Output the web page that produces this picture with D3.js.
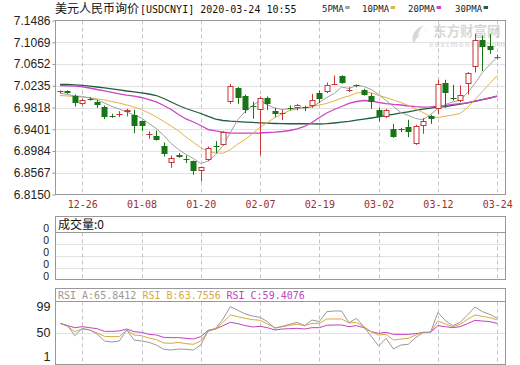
<!DOCTYPE html>
<html><head><meta charset="utf-8">
<script src="https://cdn.jsdelivr.net/npm/d3@7"></script>
<style>body{margin:0;background:#fff}svg{display:block}</style>
</head><body>
<svg id="c" width="520" height="365"></svg>
<script>
const dates = ["12-23","12-24","12-25","12-26","12-27","12-30","12-31","01-02","01-03","01-06","01-07","01-08","01-09","01-10","01-13","01-14","01-15","01-16","01-17","01-20","01-21","01-22","01-23","02-03","02-04","02-05","02-06","02-07","02-10","02-11","02-12","02-13","02-14","02-17","02-18","02-19","02-20","02-21","02-24","02-25","02-26","02-27","02-28","03-02","03-03","03-04","03-05","03-06","03-09","03-10","03-11","03-12","03-13","03-16","03-17","03-18","03-19","03-20","03-23","03-24"];
const labelIdx = [3,11,19,27,35,43,51,59];
const open  = [7.0106,7.0131,7.0029,6.9876,6.9990,6.9933,6.9837,6.9659,6.9678,6.9735,6.9678,6.9550,6.9300,6.9281,6.9083,6.8757,6.8911,6.8840,6.8783,6.8604,6.8802,6.9077,6.9102,6.9914,7.0195,7.0048,6.9844,6.9761,7.0003,6.9748,6.9703,6.9818,6.9812,6.9825,6.9850,7.0093,7.0118,7.0259,7.0425,7.0150,7.0240,7.0157,7.0029,6.9761,6.9633,6.9409,6.9403,6.9441,6.9109,6.9454,6.9646,6.9780,7.0285,7.0003,6.9952,7.0272,7.0585,7.1103,7.0994,7.0777];
const high  = [7.0144,7.0144,7.0067,6.9984,7.0016,6.9965,6.9857,6.9697,6.9748,6.9793,6.9774,6.9569,6.9358,6.9377,6.9147,6.8898,6.8943,6.8898,6.8802,6.8687,6.9070,6.9173,6.9364,7.0272,7.0208,7.0067,6.9927,7.0029,7.0029,6.9812,6.9774,6.9857,6.9888,6.9850,7.0080,7.0144,7.0297,7.0432,7.0438,7.0208,7.0259,7.0176,7.0093,6.9812,6.9793,6.9505,6.9428,6.9582,6.9486,6.9614,6.9678,7.0349,7.0349,7.0253,7.0240,7.0496,7.1231,7.1198,7.1230,7.0834];
const low   = [7.0086,7.0080,6.9837,6.9857,6.9952,6.9812,6.9595,6.9620,6.9633,6.9646,6.9326,6.9364,6.9217,6.9185,6.8879,6.8662,6.8853,6.8751,6.8527,6.8406,6.8789,6.8943,6.9090,6.9888,6.9888,6.9710,6.9601,6.8898,6.9773,6.9633,6.9582,6.9761,6.9761,6.9748,6.9812,6.9901,7.0093,7.0246,7.0272,7.0112,7.0208,7.0048,6.9793,6.9550,6.9614,6.9237,6.9345,6.9249,6.9102,6.9313,6.9505,6.9697,6.9812,6.9952,6.9920,7.0067,7.0489,7.0515,7.0847,7.0738];
const close = [7.0125,7.0093,6.9901,6.9971,6.9978,6.9863,6.9633,6.9646,6.9691,6.9774,6.9454,6.9454,6.9319,6.9198,6.8917,6.8847,6.8866,6.8828,6.8598,6.8668,6.9038,6.9058,6.9345,7.0221,7.0003,6.9773,6.9831,7.0003,6.9888,6.9684,6.9716,6.9806,6.9863,6.9812,6.9965,6.9978,7.0240,7.0265,7.0285,7.0163,7.0227,7.0067,6.9927,6.9633,6.9761,6.9262,6.9390,6.9345,6.9454,6.9556,6.9601,7.0272,7.0093,6.9990,7.0055,7.0476,7.1116,7.0975,7.0911,7.0790];
const ma5  = [7.0092,7.0067,7.0042,7.0029,7.0004,6.9962,6.9904,6.9837,6.9789,6.9732,6.9674,6.9617,6.9511,6.9415,6.9281,6.9128,6.9013,6.8917,6.8840,6.8744,6.8792,6.8917,6.9090,6.9339,6.9588,6.9741,6.9856,6.9952,6.9866,6.9808,6.9780,6.9793,6.9799,6.9808,6.9828,6.9914,7.0010,7.0086,7.0211,7.0182,7.0240,7.0221,7.0163,7.0067,6.9952,6.9837,6.9722,6.9665,6.9607,6.9582,6.9684,6.9799,6.9876,6.9924,6.9952,7.0106,7.0278,7.0489,7.0642,7.0782];
const ma10 = [7.0048,7.0039,7.0029,7.0019,7.0004,6.9985,6.9962,6.9933,6.9904,6.9866,6.9828,6.9780,6.9713,6.9636,6.9550,6.9463,6.9368,6.9253,6.9147,6.9051,6.8975,6.8946,6.8942,6.9013,6.9118,6.9205,6.9320,6.9440,6.9531,6.9626,6.9693,6.9761,6.9789,6.9818,6.9837,6.9866,6.9895,6.9943,7.0000,7.0039,7.0096,7.0110,7.0102,7.0048,7.0010,6.9962,6.9914,6.9856,6.9789,6.9722,6.9646,6.9626,6.9651,6.9674,6.9703,6.9818,6.9971,7.0125,7.0278,7.0432];
const ma20 = [7.0240,7.0234,7.0226,7.0213,7.0192,7.0163,7.0138,7.0110,7.0081,7.0056,7.0035,7.0010,6.9971,6.9924,6.9856,6.9780,6.9684,6.9598,6.9540,6.9473,6.9396,6.9368,6.9345,6.9329,6.9325,6.9325,6.9325,6.9329,6.9339,6.9345,6.9358,6.9377,6.9406,6.9454,6.9531,6.9626,6.9713,6.9780,6.9837,6.9895,6.9933,6.9952,6.9943,6.9914,6.9891,6.9876,6.9866,6.9847,6.9833,6.9824,6.9831,6.9843,6.9856,6.9876,6.9891,6.9908,6.9943,6.9971,7.0000,7.0035];
const ma30 = [7.0259,7.0259,7.0253,7.0244,7.0228,7.0211,7.0194,7.0177,7.0154,7.0134,7.0119,7.0100,7.0077,7.0048,6.9991,6.9924,6.9856,6.9799,6.9751,6.9703,6.9646,6.9596,6.9569,6.9555,6.9546,6.9538,6.9531,6.9523,6.9517,6.9511,6.9508,6.9506,6.9506,6.9506,6.9504,6.9502,6.9508,6.9521,6.9536,6.9553,6.9575,6.9596,6.9617,6.9640,6.9665,6.9688,6.9713,6.9736,6.9761,6.9785,6.9808,6.9826,6.9837,6.9860,6.9883,6.9908,6.9937,6.9968,7.0000,7.0035];
const rsiA = [67.8,64.1,44.7,58.5,55.3,47.9,34.7,32.9,34.7,55.3,36.6,34.7,32.2,27.2,19.1,17.9,19.7,19.1,17.9,27.2,54.1,58.5,76.0,99.1,92.2,85.3,81.6,79.1,71.0,58.5,62.2,66.0,69.7,63.5,74.1,71.0,89.7,90.9,90.9,69.1,77.2,61.6,43.5,25.4,39.7,19.7,27.2,28.5,41.0,50.3,51.0,88.4,72.8,63.5,69.7,83.5,98.4,89.7,84.7,77.2];
const rsiB = [67.8,62.2,52.2,57.2,55.3,49.7,43.5,42.9,42.9,55.3,46.0,44.7,40.4,37.2,31.0,30.4,32.2,29.7,28.5,34.7,52.8,57.2,69.7,83.5,80.3,77.2,74.7,73.5,66.6,59.7,61.6,64.1,66.0,63.5,67.8,67.8,76.0,76.0,76.0,68.5,69.7,61.6,51.6,46.0,47.2,36.6,38.5,39.7,46.0,51.0,51.0,72.2,66.6,61.6,66.0,75.3,83.5,81.0,78.5,74.1];
const rsiC = [67.8,63.5,59.7,61.6,59.7,57.8,52.8,52.8,53.5,57.2,52.2,51.0,47.2,46.0,41.6,41.0,41.0,39.7,38.5,42.9,54.7,57.2,63.5,69.7,67.2,63.5,61.0,62.2,59.7,55.3,57.2,57.8,58.5,57.2,59.7,59.7,64.1,64.7,64.7,61.6,63.5,59.7,52.2,49.1,51.0,47.2,47.2,47.2,48.5,51.0,51.0,63.5,61.6,59.7,61.6,67.2,73.5,72.2,71.0,67.8];
const priceTicks = [7.1486,7.1069,7.0652,7.0235,6.9818,6.9401,6.8984,6.8567,6.8150];
const volTickLabels = ["0","0","0","0","0"];
const rsiTicks = [99,50,1];
const maNames = ["5PMA","10PMA","20PMA","30PMA"];
const rsiNames = ["RSI_A:65.8412","RSI_B:63.7556","RSI_C:59.4076"];

const svg = d3.select("#c");
const C = {up:"#cc3333", down:"#177517", frame:"#999", grid:"#e2e2e2", vgrid:"#c4c4c4",
  ma:["#a0a0a0","#e2b24a","#cc44cc","#1f5f3d"], rsi:["#999999","#d9a93c","#c43fc4"]};
const L = 55.5, R = 505.5;
const mono = "'DejaVu Sans Mono', 'Liberation Mono', monospace";
const sans = "'Liberation Sans', Arial, sans-serif";
const cjk = "'Noto Sans CJK SC', sans-serif";

const x = d3.scaleLinear().domain([0, dates.length - 1]).range([60, 497.2]);
const y = d3.scaleLinear().domain([6.8150, 7.1486]).range([194.5, 20.5]);
const px = v => Math.round(v) + 0.5;

// ---- title & legend
const t = svg.append("text").attr("x", 55).attr("y", 12.5).attr("fill", "#111");
t.append("tspan").attr("font-family", cjk).attr("font-size", 12).text("美元人民币询价");
t.append("tspan").attr("x", 140).attr("font-family", mono).attr("font-size", 10).text("[USDCNYI] 2020-03-24 10:55");
const legX = [322, 362, 408, 455];
maNames.forEach((n, i) => {
  const tx = svg.append("text").attr("x", legX[i]).attr("y", 12).attr("font-family", mono)
    .attr("font-size", 9).attr("fill", "#222").text(n);
  const w = tx.node().getComputedTextLength();
  svg.append("rect").attr("x", legX[i] + w + 1.5).attr("y", 6).attr("width", 4.5).attr("height", 3).attr("fill", C.ma[i]);
});

// ---- watermark
const wm = svg.append("g").attr("opacity", 0.55);
wm.append("path").attr("d", "M424,25 C414,29 410,37 414,44 C416,38 420,33 428,30 C424,31 420,34 418,38 C418,32 421,28 424,25 Z").attr("fill", "#b8b8b8");
wm.append("text").attr("x", 433).attr("y", 35.5).attr("font-family", cjk).attr("font-size", 13.5).attr("font-weight", 700).attr("fill", "#b8b8b8").text("东方财富网");
wm.append("text").attr("x", 429).attr("y", 47).attr("font-family", sans).attr("font-size", 8).attr("font-weight", 700).attr("fill", "#c4c4c4").attr("textLength", 76).text("eastmoney.com");

// ---- main panel grid
const gMain = svg.append("g");
gMain.selectAll("line.h").data(priceTicks.slice(1, -1)).join("line")
  .attr("x1", L).attr("x2", R).attr("y1", d => px(y(d))).attr("y2", d => px(y(d)))
  .attr("stroke", C.grid);
function vgrid(g, y1, y2) {
  g.selectAll(null).data(labelIdx).join("line")
    .attr("x1", d => px(x(d))).attr("x2", d => px(x(d))).attr("y1", y1).attr("y2", y2)
    .attr("stroke", C.vgrid).attr("stroke-dasharray", "4,3");
}
vgrid(gMain, 20.5, 194.5);

// y axis
const yAxis = d3.axisLeft(y).tickValues(priceTicks).tickSize(3).tickPadding(2).tickFormat(d3.format(".4f"));
const ga = svg.append("g").attr("transform", `translate(${L},0)`).call(yAxis);
ga.select(".domain").remove();
ga.selectAll(".tick line").attr("stroke", C.frame);
ga.selectAll(".tick text").attr("font-family", sans).attr("font-size", 12).attr("fill", "#222");

// x labels
const xAxis = d3.axisBottom(x).tickValues(labelIdx).tickSize(0).tickPadding(6).tickFormat(i => dates[i]);
const gx = svg.append("g").attr("transform", "translate(0,195)").call(xAxis);
gx.select(".domain").remove();
gx.selectAll(".tick text").attr("font-family", mono).attr("font-size", 10).attr("fill", "#9e2e2e");

// ---- MA lines
const maSeries = [ma5, ma10, ma20, ma30];
const line = d3.line().x((d, i) => x(i)).y(d => y(d));
[3, 2, 1, 0].forEach(k => {
  svg.append("path").datum(maSeries[k]).attr("d", line).attr("fill", "none")
    .attr("stroke", C.ma[k]).attr("stroke-width", k >= 2 ? 1.3 : 1);
});

// ---- candles
const bw = 5;
const cg = svg.append("g");
dates.forEach((d, i) => {
  const cx = px(x(i));
  const o = open[i], c = close[i], up = c >= o;
  const col = up ? C.up : C.down;
  const yt = y(Math.max(o, c)), yb = y(Math.min(o, c));
  const bt = Math.round(yt), bb = Math.max(Math.round(yb), bt + 1);
  cg.append("line").attr("x1", cx).attr("x2", cx).attr("y1", y(high[i])).attr("y2", bt).attr("stroke", col);
  cg.append("line").attr("x1", cx).attr("x2", cx).attr("y1", bb).attr("y2", y(low[i])).attr("stroke", col);
  if (bb - bt <= 1.5) {
    cg.append("line").attr("x1", cx - 3).attr("x2", cx + 3).attr("y1", bt + 0.5).attr("y2", bt + 0.5).attr("stroke", col);
  } else if (up) {
    cg.append("rect").attr("x", cx - 2.5).attr("y", bt + 0.5).attr("width", bw).attr("height", bb - bt - 1)
      .attr("fill", "#fff").attr("stroke", col);
  } else {
    cg.append("rect").attr("x", cx - 3).attr("y", bt).attr("width", bw + 1).attr("height", bb - bt).attr("fill", col);
  }
});

// main frame
svg.append("rect").attr("x", L).attr("y", 20.5).attr("width", R - L).attr("height", 174)
  .attr("fill", "none").attr("stroke", C.frame);

// ---- volume panel
svg.append("rect").attr("x", L).attr("y", 216.5).attr("width", R - L).attr("height", 16).attr("fill", "#fff").attr("stroke", C.frame);
svg.append("text").attr("x", 58).attr("y", 229).attr("font-family", cjk).attr("font-size", 12).attr("fill", "#111").text("成交量:0");
const vy = d3.scaleLinear().domain([0, 4]).range([280.5, 232.5]);
const gVol = svg.append("g");
gVol.selectAll("line").data([1, 2, 3]).join("line").attr("x1", L).attr("x2", R)
  .attr("y1", d => vy(d)).attr("y2", d => vy(d)).attr("stroke", C.grid);
vgrid(svg.append("g"), 232.5, 279.5);
svg.append("rect").attr("x", L).attr("y", 232.5).attr("width", R - L).attr("height", 47).attr("fill", "none").attr("stroke", C.frame);
svg.append("g").selectAll("text").data(volTickLabels).join("text")
  .attr("x", 49).attr("y", (d, i) => vy(4 - i) - 0.5).attr("text-anchor", "end")
  .attr("font-family", sans).attr("font-size", 10.5).attr("fill", "#222").text(d => d);

// ---- RSI panel
svg.append("rect").attr("x", L).attr("y", 288.5).attr("width", R - L).attr("height", 13).attr("fill", "#fff").attr("stroke", C.frame);
const rsiLegX = [58, 142.5, 226.5];
rsiNames.forEach((n, i) => {
  svg.append("text").attr("x", rsiLegX[i]).attr("y", 299).attr("font-family", mono).attr("font-size", 10)
    .attr("fill", C.rsi[i]).text(n);
});
const ry = d3.scaleLinear().domain([1, 99]).range([359, 306.7]);
svg.append("line").attr("x1", L).attr("x2", R).attr("y1", px(ry(50))).attr("y2", px(ry(50))).attr("stroke", C.grid);
vgrid(svg.append("g"), 301.5, 365);
const rline = d3.line().x((d, i) => x(i)).y(d => ry(d));
[rsiC, rsiB, rsiA].forEach((s, k) => {
  svg.append("path").datum(s).attr("d", rline).attr("fill", "none").attr("stroke", C.rsi[2 - k]).attr("stroke-width", 1);
});
svg.append("rect").attr("x", L).attr("y", 301.5).attr("width", R - L).attr("height", 63).attr("fill", "none").attr("stroke", C.frame);
const rAxis = d3.axisLeft(ry).tickValues(rsiTicks).tickSize(0).tickPadding(4);
const gr = svg.append("g").attr("transform", `translate(${L - 1},0)`).call(rAxis);
gr.select(".domain").remove();
gr.selectAll(".tick text").attr("font-family", sans).attr("font-size", 12.5).attr("fill", "#222");
gr.selectAll(".tick").filter(d => d === 1).select("text").attr("dy", "0.1em");
</script>
</body></html>
